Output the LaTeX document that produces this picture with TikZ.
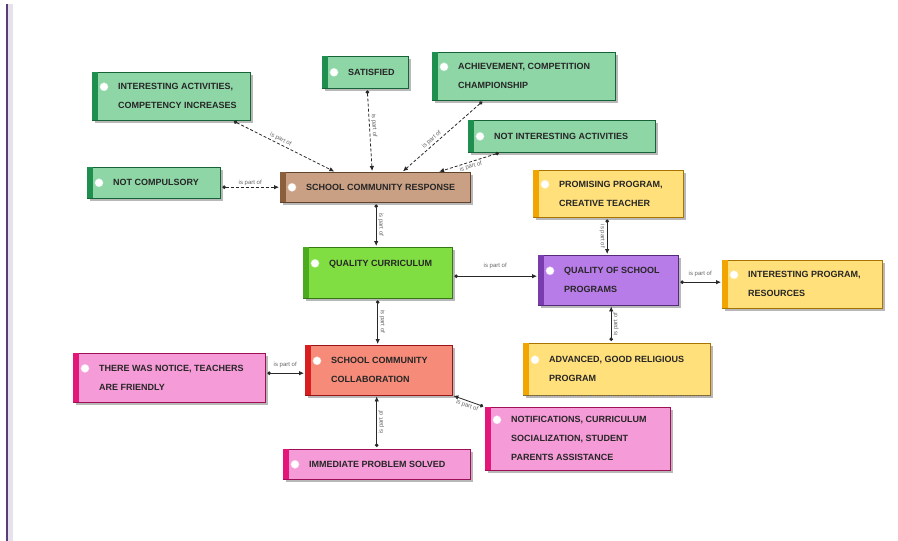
\documentclass[tikz,border=0pt]{standalone}
\usepackage{fontspec}
\setmainfont{Liberation Sans}
\usetikzlibrary{arrows.meta,calc}
\definecolor{gfill}{RGB}{142,214,166}
\definecolor{gstrip}{RGB}{30,143,78}
\definecolor{bfill}{RGB}{201,160,131}
\definecolor{bstrip}{RGB}{139,94,60}
\definecolor{lfill}{RGB}{128,222,66}
\definecolor{lstrip}{RGB}{76,170,30}
\definecolor{pfill}{RGB}{184,124,232}
\definecolor{pstrip}{RGB}{120,60,175}
\definecolor{yfill}{RGB}{255,224,122}
\definecolor{ystrip}{RGB}{242,164,0}
\definecolor{sfill}{RGB}{245,139,120}
\definecolor{sstrip}{RGB}{216,30,30}
\definecolor{kfill}{RGB}{245,155,216}
\definecolor{kstrip}{RGB}{227,22,122}
\definecolor{edgecol}{RGB}{40,40,40}
\definecolor{sidebar}{RGB}{90,60,120}
\tikzset{
  cbx/.style={rectangle, draw, line width=0.4pt, inner sep=0pt, anchor=north west},
  lbl/.style={font=\fontsize{9}{19}\selectfont\bfseries, text=black!85, inner sep=0pt, align=left},
  conn/.style={draw=edgecol, line width=0.8pt, {Circle[length=3.6pt]}-{Latex[length=5pt,width=4.5pt]}, shorten <=2pt, shorten >=1pt},
  dconn/.style={conn, densely dashed},
  rel/.style={font=\fontsize{6}{7}\selectfont, text=black!60, inner sep=1.5pt, sloped}
}
% #1 name, #2 x, #3 y, #4 w, #5 h, #6 fill, #7 strip, #8 text
\newcommand\cbox[8]{%
  \fill[black!28] (#2+3,#3+3) rectangle ++(#4,#5);
  \node[cbx, fill=#6, draw=#7!70!black, minimum width=#4pt, minimum height=#5pt] (#1) at (#2,#3) {};
  \fill[#7] (#1.north west) rectangle ([xshift=6pt]#1.south west);
  \node[lbl, anchor=west] (#1-t) at ([xshift=26pt]#1.west) {#8};
  \fill[white, draw=#6!60!white, line width=0.3pt] ([xshift=-14pt,yshift=-3.5pt]#1-t.north west) circle (4.2pt);
}
\begin{document}
\begin{tikzpicture}[x=1pt,y=-1pt]
\useasboundingbox (0,0) rectangle (898,541);
\fill[white] (0,0) rectangle (898,541);
\fill[sidebar!15] (8,4) rectangle (13,541);
\draw[sidebar, line width=2pt] (7,4) -- (7,541);

\cbox{ia}{92}{72}{158}{48}{gfill}{gstrip}{INTERESTING ACTIVITIES,\\COMPETENCY INCREASES}
\cbox{sat}{322}{56}{86}{32}{gfill}{gstrip}{SATISFIED}
\cbox{ach}{432}{52}{183}{48}{gfill}{gstrip}{ACHIEVEMENT, COMPETITION\\CHAMPIONSHIP}
\cbox{nia}{468}{120}{187}{32}{gfill}{gstrip}{NOT INTERESTING ACTIVITIES}
\cbox{nc}{87}{167}{133}{31}{gfill}{gstrip}{NOT COMPULSORY}
\cbox{scr}{280}{172}{190}{30}{bfill}{bstrip}{SCHOOL COMMUNITY RESPONSE}
\cbox{qc}{303}{247}{149}{51}{lfill}{lstrip}{QUALITY CURRICULUM\\\mbox{}}
\cbox{qsp}{538}{255}{140}{50}{pfill}{pstrip}{QUALITY OF SCHOOL\\PROGRAMS}
\cbox{prom}{533}{170}{150}{47}{yfill}{ystrip}{PROMISING PROGRAM,\\CREATIVE TEACHER}
\cbox{ip}{722}{260}{160}{48}{yfill}{ystrip}{INTERESTING PROGRAM,\\RESOURCES}
\cbox{adv}{523}{343}{187}{52}{yfill}{ystrip}{ADVANCED, GOOD RELIGIOUS\\PROGRAM}
\draw[black!60, densely dotted, line width=0.8pt] (adv.south west) -- (adv.south east);
\cbox{scc}{305}{345}{147}{50}{sfill}{sstrip}{SCHOOL COMMUNITY\\COLLABORATION}
\cbox{twn}{73}{353}{192}{49}{kfill}{kstrip}{THERE WAS NOTICE, TEACHERS\\ARE FRIENDLY}
\cbox{notif}{485}{407}{185}{63}{kfill}{kstrip}{NOTIFICATIONS, CURRICULUM\\SOCIALIZATION, STUDENT\\PARENTS ASSISTANCE}
\cbox{imm}{283}{449}{187}{30}{kfill}{kstrip}{IMMEDIATE PROBLEM SOLVED}

% connectors
\draw[dconn] ([xshift=61pt]ia.south) -- node[rel, above, pos=0.45] {is part of} ([xshift=-40pt]scr.north);
\draw[dconn] ([xshift=2pt]sat.south) -- node[rel, above, pos=0.45] {is part of} ([xshift=-3pt]scr.north);
\draw[dconn] ([xshift=-40pt]ach.south) -- node[rel, above, pos=0.6] {is part of} ([xshift=27pt]scr.north);
\draw[dconn] ([xshift=-61pt]nia.south) -- node[rel, below, pos=0.5] {is part of} ([xshift=63pt]scr.north);
\draw[dconn] ([yshift=-4.5pt]nc.east) -- node[rel, above] {is part of} (scr.west);
\draw[conn] ([xshift=1pt]scr.south) -- node[rel, above] {is part of} ([xshift=-1.5pt]qc.north);
\draw[conn] ([yshift=-3.5pt]qc.east) -- node[rel, above, yshift=6pt] {is part of} ([yshift=4pt]qsp.west);
\draw[conn] ([xshift=-1pt]prom.south) -- node[rel, below] {is part of} ([xshift=-1pt]qsp.north);
\draw[conn] ([yshift=-2pt]qsp.east) -- node[rel, above, yshift=4pt] {is part of} ([yshift=2pt]ip.west);
\draw[conn] ([xshift=-5.5pt]adv.north) -- node[rel, below] {is part of} ([xshift=3pt]qsp.south);
\draw[conn] (qc.south) -- node[rel, above] {is part of} ([xshift=-1pt]scc.north);
\draw[conn] ([yshift=4.5pt]twn.east) -- node[rel, above, yshift=4pt] {is part of} ([yshift=-3pt]scc.west);
\draw[conn] (notif.north west) -- node[rel, below] {is part of} (scc.south east);
\draw[conn] (imm.north) -- node[rel, below] {is part of} ([xshift=-2pt]scc.south);
\end{tikzpicture}
\end{document}
